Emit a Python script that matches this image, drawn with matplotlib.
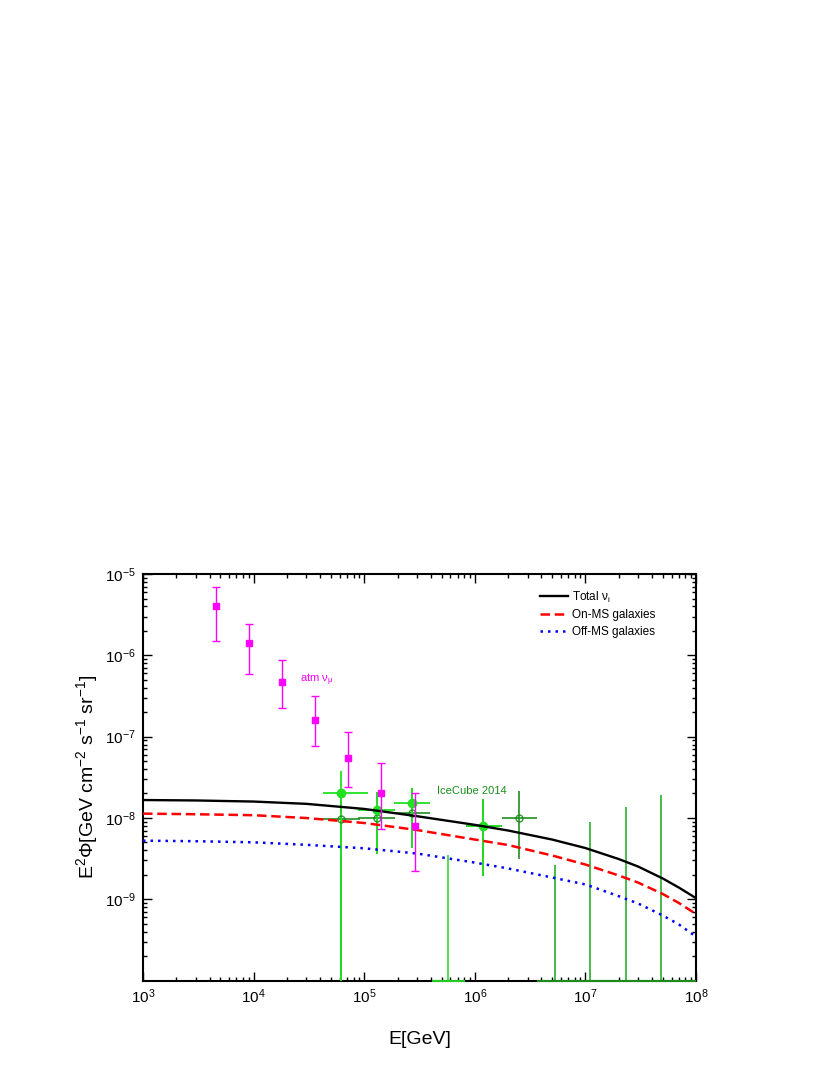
import numpy as np
import matplotlib
matplotlib.use('Agg')
import matplotlib.pyplot as plt
from matplotlib.ticker import LogLocator, FixedLocator, NullFormatter, LogFormatterMathtext

plt.rcParams['font.family'] = ['Liberation Sans', 'DejaVu Sans']
plt.rcParams['mathtext.fontset'] = 'custom'
plt.rcParams['mathtext.rm'] = 'Liberation Sans'
plt.rcParams['mathtext.it'] = 'Liberation Sans:italic'
plt.rcParams['mathtext.default'] = 'regular'

# ---------------- model curves ----------------
E_model = [1e3, 3e3, 1e4, 3e4, 1e5, 3e5, 1e6, 2e6, 5e6, 1e7, 2e7, 3e7, 5e7, 7e7, 1e8]
total_nu = [1.66e-8, 1.64e-8, 1.59e-8, 1.49e-8, 1.29e-8, 1.05e-8, 8.22e-9, 7.0e-9,
            5.42e-9, 4.26e-9, 3.12e-9, 2.52e-9, 1.80e-9, 1.39e-9, 1.03e-9]
on_ms = [1.13e-8, 1.11e-8, 1.08e-8, 9.97e-9, 8.66e-9, 7.10e-9, 5.42e-9, 4.64e-9,
         3.45e-9, 2.67e-9, 1.96e-9, 1.60e-9, 1.16e-9, 8.98e-10, 6.58e-10]
off_ms = [5.25e-9, 5.17e-9, 5.01e-9, 4.67e-9, 4.23e-9, 3.65e-9, 2.82e-9, 2.39e-9,
          1.85e-9, 1.52e-9, 1.09e-9, 8.85e-10, 6.31e-10, 4.89e-10, 3.46e-10]

# ---------------- atmospheric nu_mu ----------------
E_atm = [4.6e3, 9.0e3, 1.81e4, 3.61e4, 7.18e4, 1.43e5, 2.87e5]
F_atm = [4.05e-6, 1.40e-6, 4.7e-7, 1.61e-7, 5.4e-8, 2.0e-8, 7.94e-9]
F_atm_hi = [6.95e-6, 2.44e-6, 8.7e-7, 3.13e-7, 1.14e-7, 4.7e-8, 2.04e-8]
F_atm_lo = [1.5e-6, 5.9e-7, 2.23e-7, 7.6e-8, 2.38e-8, 7.24e-9, 2.24e-9]

# ---------------- IceCube 2014 (filled, light green) ----------------
E_ic1 = [6.17e4, 1.30e5, 2.72e5, 1.18e6]
E_ic1_lo = [4.22e4, 8.85e4, 1.86e5, 8.28e5]
E_ic1_hi = [1.08e5, 1.90e5, 3.94e5, 1.75e6]
F_ic1 = [2.05e-8, 1.25e-8, 1.51e-8, 7.94e-9]
F_ic1_hi = [3.78e-8, 2.10e-8, 2.31e-8, 1.69e-8]
F_ic1_lo = [1e-12, 3.56e-9, 4.23e-9, 1.94e-9]
# empty bin (light green)
E_ic1_zero = [5.69e5]
E_ic1_zero_lo = [4.07e5]
E_ic1_zero_hi = [8.15e5]
F_ic1_zero_hi = [3.50e-9]

# ---------------- IceCube 2014 (open, dark green) ----------------
E_ic2 = [6.17e4, 1.30e5, 2.72e5, 1.18e6, 2.51e6]
E_ic2_lo = [4.24e4, 8.85e4, 1.86e5, 8.28e5, 1.75e6]
E_ic2_hi = [9.16e4, 1.90e5, 3.94e5, 1.75e6, 3.63e6]
F_ic2 = [9.71e-9, 1.0e-8, 1.16e-8, 7.94e-9, 9.9e-9]
F_ic2_hi = [1.8e-8, 2.10e-8, 2.31e-8, 1.69e-8, 2.14e-8]
F_ic2_lo = [1e-12, 3.56e-9, 4.23e-9, 1.94e-9, 3.15e-9]
# empty bins (dark green)
E_ic2_zero = [5.31e6, 1.11e7, 2.31e7, 4.85e7]
E_ic2_zero_lo = [3.65e6, 7.57e6, 1.6e7, 3.32e7]
E_ic2_zero_hi = [7.57e6, 1.6e7, 3.32e7, 6.87e7]
F_ic2_zero_hi = [2.63e-9, 8.97e-9, 1.37e-8, 1.91e-8]

YMIN, YMAX = 1e-10, 1e-5
XMIN, XMAX = 1e3, 1e8

fig = plt.figure(figsize=(8.3, 10.75), dpi=100)
ax = fig.add_axes([0.1723, 0.0879, 0.6663, 0.3781])

# model lines
ax.plot(E_model, total_nu, color='black', lw=1.7, label=r'Total $\nu_i$', zorder=4)
ax.plot(E_model, on_ms, color='#ff0000', lw=1.8, dashes=(3.8, 1.9), label='On-MS galaxies', zorder=4)
ax.plot(E_model, off_ms, color='#0000ff', lw=1.8, dashes=(1.0, 2.0), label='Off-MS galaxies', zorder=4)

# atmospheric
Ea = np.array(E_atm); Fa = np.array(F_atm)
ax.errorbar(Ea, Fa, yerr=[Fa - np.array(F_atm_lo), np.array(F_atm_hi) - Fa],
            fmt='s', color='#ff00ff', ms=5, elinewidth=1.0, capsize=3, capthick=1.0, zorder=5)

# IceCube dark green (open)
E2 = np.array(E_ic2); F2 = np.array(F_ic2)
ax.errorbar(E2, F2, xerr=[E2 - np.array(E_ic2_lo), np.array(E_ic2_hi) - E2],
            yerr=[F2 - np.array(F_ic2_lo), np.array(F_ic2_hi) - F2],
            fmt='o', mfc='none', mec='#1a8c1a', color='#1a8c1a', ms=5, mew=1.0,
            elinewidth=1.3, capsize=0, alpha=0.9, zorder=3)
ax.vlines(E_ic2_zero, 1e-12, F_ic2_zero_hi, color='#3cb43c', lw=1.3, zorder=3)
ax.hlines([YMIN] * len(E_ic2_zero), E_ic2_zero_lo, E_ic2_zero_hi, color='#1a8c1a',
          lw=1.5, zorder=3, clip_on=False)
ax.hlines([YMIN], [6.87e7], [1e8], color='#1a8c1a', lw=1.5, zorder=3, clip_on=False)

# IceCube light green (filled)
E1 = np.array(E_ic1); F1 = np.array(F_ic1)
ax.errorbar(E1, F1, xerr=[E1 - np.array(E_ic1_lo), np.array(E_ic1_hi) - E1],
            yerr=[F1 - np.array(F_ic1_lo), np.array(F_ic1_hi) - F1],
            fmt='o', color='#22e022', ms=6, elinewidth=1.3, capsize=0, zorder=3)
ax.vlines(E_ic1_zero, 1e-12, F_ic1_zero_hi, color='#44dd44', lw=1.3, zorder=3)
ax.hlines([YMIN] * len(E_ic1_zero), E_ic1_zero_lo, E_ic1_zero_hi, color='#22cc22',
          lw=1.5, zorder=3, clip_on=False)

# annotations
ax.text(2.63e4, 4.97e-7, r'atm $\nu_\mu$', color='#ff00ff', fontsize=8, ha='left', va='center')
ax.text(4.52e5, 2.14e-8, 'IceCube 2014', color='#1a8c1a', fontsize=8, ha='left', va='center')

ax.set_xscale('log')
ax.set_yscale('log')
ax.set_xlim(XMIN, XMAX)
ax.set_ylim(YMIN, YMAX)

ax.xaxis.set_major_locator(FixedLocator([1e3, 1e4, 1e5, 1e6, 1e7, 1e8]))
ax.xaxis.set_minor_locator(LogLocator(base=10, subs=np.arange(2, 10), numticks=50))
ax.xaxis.set_major_formatter(LogFormatterMathtext())
ax.xaxis.set_minor_formatter(NullFormatter())
ax.yaxis.set_major_locator(FixedLocator([1e-9, 1e-8, 1e-7, 1e-6, 1e-5]))
ax.yaxis.set_minor_locator(LogLocator(base=10, subs=np.arange(2, 10), numticks=50))
ax.yaxis.set_major_formatter(LogFormatterMathtext())
ax.yaxis.set_minor_formatter(NullFormatter())

ax.tick_params(which='both', direction='in', top=True, right=True, width=1.0)
ax.tick_params(which='major', length=6.5, labelsize=11, pad=5)
ax.tick_params(which='minor', length=3.2)
for s in ax.spines.values():
    s.set_linewidth(1.5)

ax.set_xlabel('E[GeV]', fontsize=14, labelpad=18)
ax.set_ylabel(r'E$^2$Φ[GeV cm$^{-2}$ s$^{-1}$ sr$^{-1}$]', fontsize=14, labelpad=4)

leg = ax.legend(loc='upper left', bbox_to_anchor=(0.718, 0.962), frameon=False,
                fontsize=8.5, handlelength=2.4, handletextpad=0.3, labelspacing=0.4,
                borderpad=0, borderaxespad=0)

fig.savefig('out.png', dpi=100)
